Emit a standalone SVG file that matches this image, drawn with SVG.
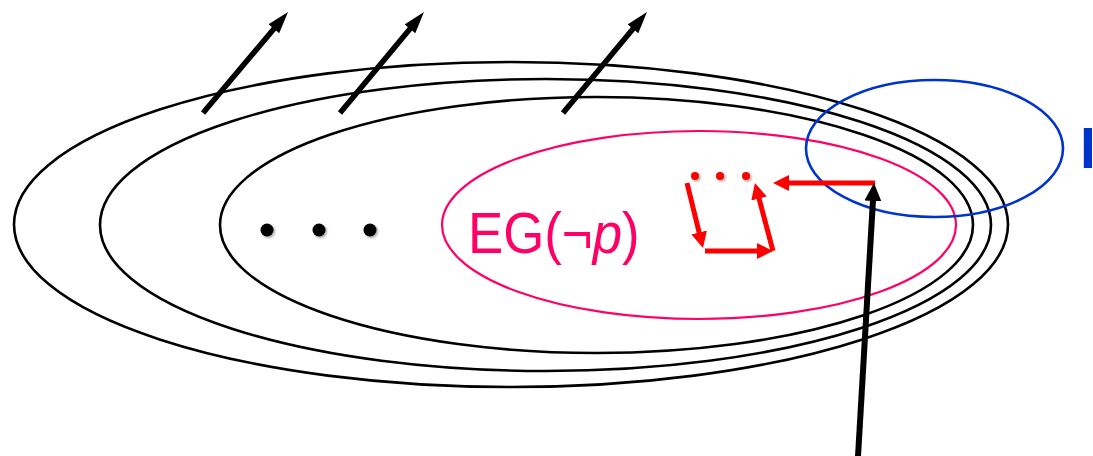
<svg xmlns="http://www.w3.org/2000/svg" width="1093" height="456" viewBox="0 0 1093 456">
  <style>
    .set { fill: none; stroke: #000; stroke-width: 2.6; }
    .eg { fill: none; stroke: #FF0066; stroke-width: 2.2; }
    .init { fill: none; stroke: #0033CC; stroke-width: 2.6; }
    .blk { stroke: #000; stroke-width: 5.5; fill: none; marker-end: url(#headBlack); }
    .blkL { stroke: #000; stroke-width: 6; fill: none; marker-end: url(#headBlackL); }
    .red { stroke: #FF0000; stroke-width: 5; fill: none; marker-end: url(#headRed); }
    .lbl { font-family: "Liberation Sans", Arial, sans-serif; }
  </style>
  <defs>
    <marker id="headBlack" markerUnits="userSpaceOnUse" markerWidth="24" markerHeight="18" viewBox="0 -9 24 18" refX="10" refY="0" orient="auto">
      <path d="M0,-7 L22,0 L0,7 Z" fill="#000"/>
    </marker>
    <marker id="headBlackL" markerUnits="userSpaceOnUse" markerWidth="20" markerHeight="20" viewBox="0 -10 20 20" refX="8" refY="0" orient="auto">
      <path d="M0,-8.5 L18,0 L0,8.5 Z" fill="#000"/>
    </marker>
    <marker id="headRed" markerUnits="userSpaceOnUse" markerWidth="20" markerHeight="20" viewBox="0 -10 20 20" refX="6" refY="0" orient="auto">
      <path d="M0,-8 L16,0 L0,8 Z" fill="#FF0000"/>
    </marker>
    <filter id="shadow" x="-50%" y="-50%" width="200%" height="200%">
      <feDropShadow dx="1.5" dy="1.5" stdDeviation="1" flood-color="#000" flood-opacity="0.35"/>
    </filter>
  </defs>

  <g id="set1"><ellipse class="set" cx="511" cy="224.5" rx="497" ry="162.5"/></g>
  <g id="set2"><ellipse class="set" cx="545.5" cy="225" rx="445.5" ry="146"/></g>
  <g id="set3"><ellipse class="set" cx="596.5" cy="225" rx="376.5" ry="128"/></g>
  <g id="egnotp">
    <ellipse class="eg" cx="699" cy="225" rx="257" ry="94"/>
    <text class="lbl" x="0" y="0" transform="translate(468,253) scale(0.91,1)" font-size="58" fill="#FF0066">EG(¬<tspan font-style="italic">p</tspan>)</text>
  </g>
  <g id="init">
    <ellipse class="init" cx="934.5" cy="148.5" rx="128.5" ry="68.5"/>
    <text class="lbl" x="1080" y="168" font-size="57" font-weight="bold" fill="#0033CC">I</text>
  </g>
  <g id="dots" filter="url(#shadow)">
    <circle cx="267" cy="230" r="6.5" fill="#000"/>
    <circle cx="319" cy="230" r="6.5" fill="#000"/>
    <circle cx="370" cy="230" r="6.5" fill="#000"/>
  </g>
  <g id="reddots" filter="url(#shadow)">
    <circle cx="695" cy="176" r="4" fill="#FF0000"/>
    <circle cx="720" cy="176" r="4" fill="#FF0000"/>
    <circle cx="746" cy="176" r="4" fill="#FF0000"/>
  </g>

  <g id="connectors">
    <line class="blk" x1="203" y1="113" x2="280.3" y2="21.2"/>
    <line class="blk" x1="340" y1="113" x2="416.3" y2="21.2"/>
    <line class="blk" x1="563" y1="113" x2="639.3" y2="21.2"/>
    <line class="red" x1="875" y1="183" x2="783" y2="183"/>
    <line class="red" x1="687" y1="183" x2="700.6" y2="238.3"/>
    <line class="red" x1="705" y1="251" x2="763" y2="251"/>
    <line class="red" x1="773" y1="251" x2="757.5" y2="192.7"/>
    <line class="blkL" x1="857.8" y1="460" x2="873.4" y2="193"/>
  </g>
</svg>
